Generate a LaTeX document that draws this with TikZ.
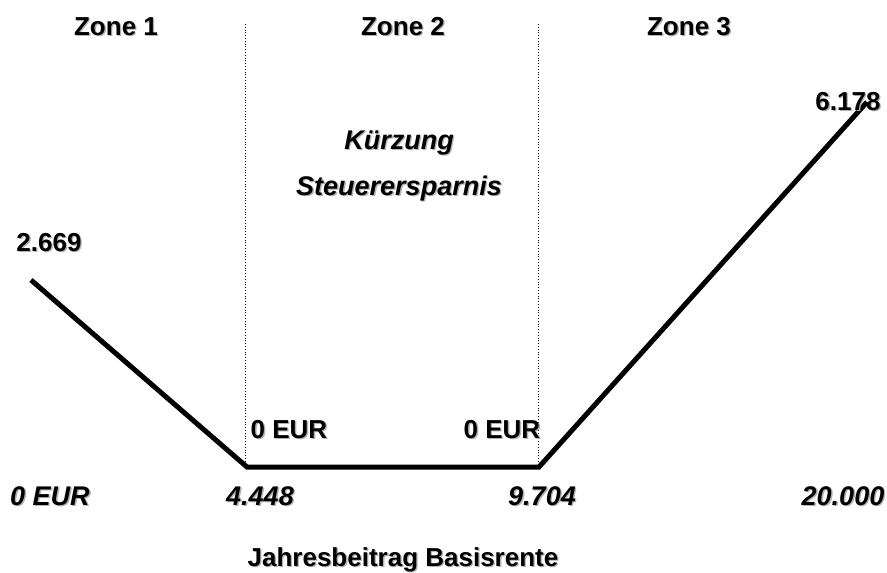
\documentclass[tikz,border=0pt]{standalone}
\usepackage{fontspec}
\setmainfont{Liberation Sans}
\usepackage{xcolor}
\newcommand\shd[1]{\rlap{\kern1.3pt\raisebox{-1.3pt}{\textcolor{black!30}{#1}}}#1}
\begin{document}
\begin{tikzpicture}[x=1pt,y=-1pt,
  lbl/.style={inner sep=0pt,anchor=base,font=\fontsize{26}{30}\selectfont\bfseries},
  ilbl/.style={lbl,font=\fontsize{27}{30}\selectfont\bfseries\itshape},
  curve/.style={line width=5pt,line join=miter},
  divider/.style={line width=0.8pt,dotted}]
\useasboundingbox (0,0) rectangle (887,573);
% dividers
\coordinate (d1t) at (245,24); \coordinate (d1b) at (245,467);
\coordinate (d2t) at (538,24); \coordinate (d2b) at (538,467);
\draw[divider] (d1t) -- (d1b);
\draw[divider] (d2t) -- (d2b);
% curve
\coordinate (p1) at (31,280);
\coordinate (p2) at (247,467);
\coordinate (p3) at (539,467);
\coordinate (p4) at (867,102);
\draw[curve] (p1) -- (p2) -- (p3) -- (p4);
% labels
\node[lbl] (z1) at (116,35) {\shd{Zone 1}};
\node[lbl] (z2) at (403,35) {\shd{Zone 2}};
\node[lbl] (z3) at (689,35) {\shd{Zone 3}};
\node[ilbl] (k1) at (399,149) {\shd{Kürzung}};
\node[ilbl] (k2) at (399,195) {\shd{Steuerersparnis}};
\node[lbl] (v1) at (49,251) {\shd{2.669}};
\node[lbl] (v2) at (848,110) {\shd{6.178}};
\node[lbl] (e1) at (289,438) {\shd{0 EUR}};
\node[lbl] (e2) at (502,438) {\shd{0 EUR}};
\node[ilbl] (x1) at (50,505) {\shd{0 EUR}};
\node[ilbl] (x2) at (260,505) {\shd{4.448}};
\node[ilbl] (x3) at (542,505) {\shd{9.704}};
\node[ilbl] (x4) at (843,505) {\shd{20.000}};
\node[lbl] (ax) at (403,566) {\shd{Jahresbeitrag Basisrente}};
\end{tikzpicture}
\end{document}
